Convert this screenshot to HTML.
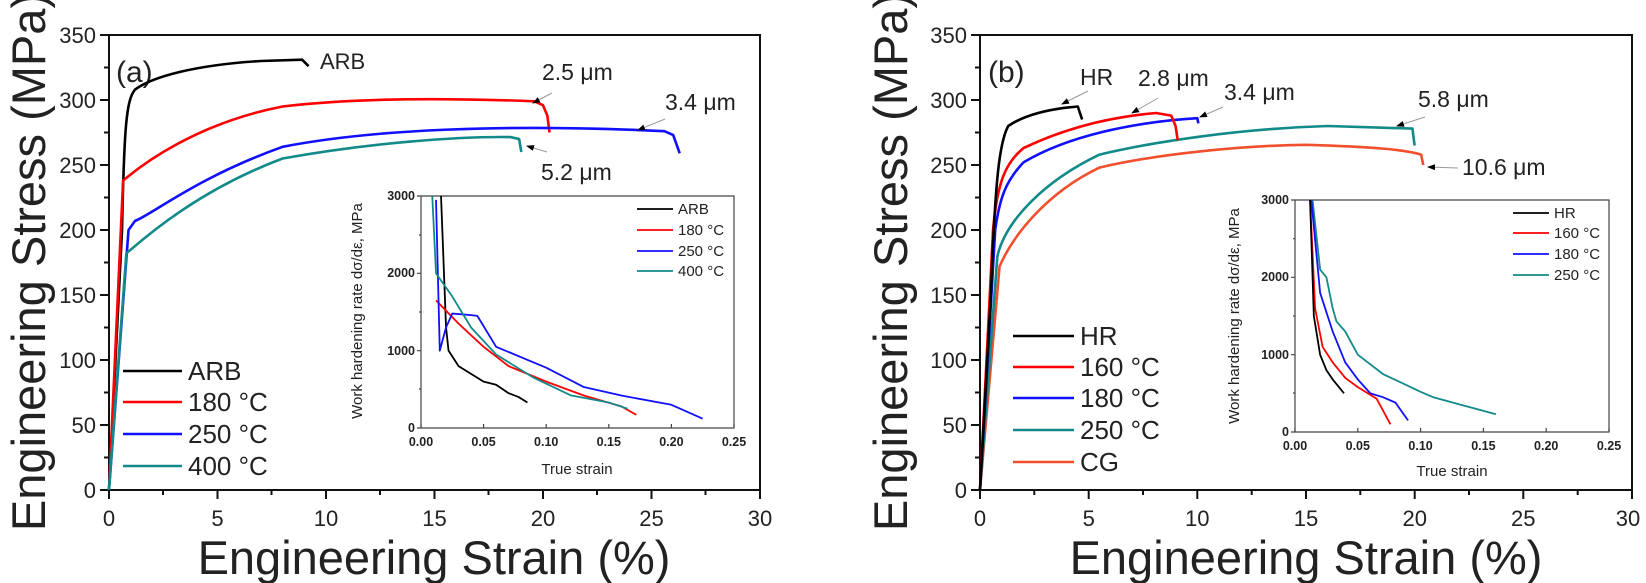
<!DOCTYPE html>
<html><head><meta charset="utf-8"><style>
html,body{margin:0;padding:0;background:#fff}
svg{display:block}
text{font-family:"Liberation Sans",Arial,sans-serif;fill:#222}
.p{fill:none;stroke-width:2.6;vector-effect:non-scaling-stroke;stroke-linejoin:round}
.q{fill:none;stroke-width:1.8;vector-effect:non-scaling-stroke;stroke-linejoin:round}
.tk{font-size:22px}
.it{font-size:12.5px;font-weight:bold;fill:#444}
.ax{stroke:#111;stroke-width:2;fill:none}
.ia{stroke:#444;stroke-width:1.2;fill:none}
</style></head><body>
<svg width="1646" height="583" viewBox="0 0 1646 583" xmlns="http://www.w3.org/2000/svg">
<defs><marker id="ah" markerWidth="8" markerHeight="6" refX="7" refY="3" orient="auto"><path d="M0,0 L8,3 L0,6 z" fill="#000"/></marker></defs>

<!-- ================= LEFT PANEL ================= -->
<g>
<path class="ax" d="M109,35 L760,35 L760,490 L109,490 Z"/>
<g stroke="#111" stroke-width="2">
<path d="M100,490h9M100,425h9M100,360h9M100,295h9M100,230h9M100,165h9M100,100h9M100,35h9"/>
<path d="M104,457.5h5M104,392.5h5M104,327.5h5M104,262.5h5M104,197.5h5M104,132.5h5M104,67.5h5"/>
<path d="M109,490v9M217.5,490v9M326,490v9M434.5,490v9M543,490v9M651.5,490v9M760,490v9"/>
<path d="M163,490v5M271.5,490v5M380,490v5M488.5,490v5M597,490v5M705.5,490v5"/>
</g>
<g class="tk" text-anchor="end">
<text x="96" y="498">0</text><text x="96" y="433">50</text><text x="96" y="368">100</text><text x="96" y="303">150</text><text x="96" y="238">200</text><text x="96" y="173">250</text><text x="96" y="108">300</text><text x="96" y="43">350</text>
</g>
<g class="tk" text-anchor="middle">
<text x="109" y="526">0</text><text x="217.5" y="526">5</text><text x="326" y="526">10</text><text x="434.5" y="526">15</text><text x="543" y="526">20</text><text x="651.5" y="526">25</text><text x="760" y="526">30</text>
</g>
<text x="434" y="574" text-anchor="middle" font-size="47">Engineering Strain (%)</text>
<text transform="translate(45,262) rotate(-90)" text-anchor="middle" font-size="47">Engineering Stress (MPa)</text>
<text x="116" y="82" font-size="30">(a)</text>

<g transform="translate(109,490) scale(21.7,-1.3)">
<path class="p" stroke="#000" d="M0,0 L0.6,200 C0.7,280 0.8,300 1.2,308 C2,318 4,327 7,330 L8.9,331 L9.2,326"/>
<path class="p" stroke="#f00" d="M0,0 L0.65,238 C1.5,250 4,282 8,295 C11,301 15,302 19.6,299 L20.0,296 L20.2,288 L20.3,275"/>
<path class="p" stroke="#1010ff" d="M0,0 L0.9,200 L1.2,207 C2,212 4,240 8,264 C12,277 18,282 25.6,276 L26,273 L26.3,259"/>
<path class="p" stroke="#138a8a" d="M0,0 L0.8,182 C1.5,192 4,230 8,255 C12,267 16,272 18.5,271.5 L18.9,270 L19,260"/>
</g>
<text x="320" y="69" font-size="22">ARB</text>
<text x="542" y="80" font-size="23">2.5 μm</text>
<text x="665" y="110" font-size="23">3.4 μm</text>
<text x="541" y="180" font-size="23">5.2 μm</text>
<g stroke="#999" stroke-width="1" fill="none">
<path d="M552,93 L533,103" marker-end="url(#ah)"/>
<path d="M665,119 L638,130" marker-end="url(#ah)"/>
<path d="M547,152 L527,146" marker-end="url(#ah)"/>
</g>

<g stroke-width="2.6">
<line x1="123" y1="371" x2="182" y2="371" stroke="#000"/>
<line x1="123" y1="402" x2="182" y2="402" stroke="#f00"/>
<line x1="123" y1="434" x2="182" y2="434" stroke="#1010ff"/>
<line x1="123" y1="466" x2="182" y2="466" stroke="#138a8a"/>
</g>
<g font-size="26">
<text x="188" y="380">ARB</text><text x="188" y="411">180 °C</text><text x="188" y="443">250 °C</text><text x="188" y="475">400 °C</text>
</g>

<!-- inset a -->
<path class="ia" d="M421,196 L734,196 L734,428 L421,428 Z"/>
<g stroke="#444" stroke-width="1.2">
<path d="M421,428h-4M421,350.7h-4M421,273.3h-4M421,196h-4M421,389h-2M421,312h-2M421,235h-2"/>
<path d="M421,428v-4M483.6,428v-4M546.2,428v-4M608.8,428v-4M671.4,428v-4M734,428v-4"/>
</g>
<g class="it" text-anchor="end"><text x="415" y="432">0</text><text x="415" y="355">1000</text><text x="415" y="277">2000</text><text x="415" y="200">3000</text></g>
<g class="it" text-anchor="middle"><text x="421" y="446">0.00</text><text x="483.6" y="446">0.05</text><text x="546.2" y="446">0.10</text><text x="608.8" y="446">0.15</text><text x="671.4" y="446">0.20</text><text x="734" y="446">0.25</text></g>
<text x="577" y="474" text-anchor="middle" font-size="15" fill="#333">True strain</text>
<text transform="translate(362,311) rotate(-90)" text-anchor="middle" font-size="15" fill="#333">Work hardening rate dσ/dε, MPa</text>
<g transform="translate(421,428) scale(1252,-0.07733)">
<path class="q" stroke="#000" d="M0.016,3000 L0.02,1300 L0.022,1000 L0.03,800 L0.04,700 L0.05,600 L0.06,560 L0.07,450 L0.078,400 L0.085,330"/>
<path class="q" stroke="#f00" d="M0.012,1650 L0.03,1350 L0.05,1050 L0.07,800 L0.1,600 L0.13,420 L0.16,280 L0.172,170"/>
<path class="q" stroke="#1010ff" d="M0.012,2950 L0.015,1000 L0.02,1300 L0.025,1480 L0.04,1460 L0.045,1450 L0.06,1050 L0.1,780 L0.13,530 L0.16,420 L0.2,300 L0.225,120"/>
<path class="q" stroke="#138a8a" d="M0.009,3000 L0.012,2000 L0.025,1700 L0.04,1300 L0.06,950 L0.09,650 L0.12,420 L0.15,330 L0.165,250"/>
</g>
<g stroke-width="1.8">
<line x1="637" y1="209" x2="673" y2="209" stroke="#000"/>
<line x1="637" y1="230" x2="673" y2="230" stroke="#f00"/>
<line x1="637" y1="251" x2="673" y2="251" stroke="#1010ff"/>
<line x1="637" y1="271" x2="673" y2="271" stroke="#138a8a"/>
</g>
<g font-size="15" fill="#333"><text x="678" y="214">ARB</text><text x="678" y="235">180 °C</text><text x="678" y="256">250 °C</text><text x="678" y="276">400 °C</text></g>
</g>

<!-- ================= RIGHT PANEL ================= -->
<g>
<path class="ax" d="M980,35 L1632,35 L1632,490 L980,490 Z"/>
<g stroke="#111" stroke-width="2">
<path d="M971,490h9M971,425h9M971,360h9M971,295h9M971,230h9M971,165h9M971,100h9M971,35h9"/>
<path d="M975,457.5h5M975,392.5h5M975,327.5h5M975,262.5h5M975,197.5h5M975,132.5h5M975,67.5h5"/>
<path d="M980,490v9M1088.7,490v9M1197.3,490v9M1306,490v9M1414.7,490v9M1523.3,490v9M1632,490v9"/>
<path d="M1034.3,490v5M1143,490v5M1251.7,490v5M1360.3,490v5M1469,490v5M1577.7,490v5"/>
</g>
<g class="tk" text-anchor="end">
<text x="967" y="498">0</text><text x="967" y="433">50</text><text x="967" y="368">100</text><text x="967" y="303">150</text><text x="967" y="238">200</text><text x="967" y="173">250</text><text x="967" y="108">300</text><text x="967" y="43">350</text>
</g>
<g class="tk" text-anchor="middle">
<text x="980" y="526">0</text><text x="1088.7" y="526">5</text><text x="1197.3" y="526">10</text><text x="1306" y="526">15</text><text x="1414.7" y="526">20</text><text x="1523.3" y="526">25</text><text x="1628" y="526">30</text>
</g>
<text x="1306" y="574" text-anchor="middle" font-size="47">Engineering Strain (%)</text>
<text transform="translate(907,262) rotate(-90)" text-anchor="middle" font-size="47">Engineering Stress (MPa)</text>
<text x="988" y="82" font-size="30">(b)</text>

<g transform="translate(980,490) scale(21.73,-1.3)">
<path class="p" stroke="#f0502e" d="M0,0 L0.9,172 C1.5,195 3,228 5.5,248 C8,258 12,265 15,265.5 C18,264 19.5,262 20.3,258 L20.4,250"/>
<path class="p" stroke="#138a8a" d="M0,0 L0.8,180 C1.2,208 3,238 5.5,258 C8,268 12,278 16,280 L19.9,278 L20,265"/>
<path class="p" stroke="#1010ff" d="M0,0 L0.7,200 C0.9,225 1.2,238 2,252 C4,272 7,283 10,286 L10.05,282"/>
<path class="p" stroke="#f00" d="M0,0 L0.6,200 C0.8,238 1.2,252 2,263 C4,279 6,287 8.1,290 L8.8,288 L9,280 L9.1,269"/>
<path class="p" stroke="#000" d="M0,0 L0.5,150 C0.7,240 0.9,268 1.3,280 C2,288 3,292 3.9,294 L4.5,295 L4.6,290 L4.7,285"/>
</g>
<text x="1080" y="85" font-size="23">HR</text>
<text x="1138" y="86" font-size="23">2.8 μm</text>
<text x="1224" y="100" font-size="23">3.4 μm</text>
<text x="1418" y="107" font-size="23">5.8 μm</text>
<text x="1462" y="175" font-size="23">10.6 μm</text>
<g stroke="#999" stroke-width="1" fill="none">
<path d="M1088,91 L1062,104" marker-end="url(#ah)"/>
<path d="M1158,98 L1132,113" marker-end="url(#ah)"/>
<path d="M1223,107 L1200,117" marker-end="url(#ah)"/>
<path d="M1425,117 L1397,126" marker-end="url(#ah)"/>
<path d="M1458,168 L1428,167" marker-end="url(#ah)"/>
</g>

<g stroke-width="2.6">
<line x1="1013" y1="336" x2="1074" y2="336" stroke="#000"/>
<line x1="1013" y1="367" x2="1074" y2="367" stroke="#f00"/>
<line x1="1013" y1="398" x2="1074" y2="398" stroke="#1010ff"/>
<line x1="1013" y1="430" x2="1074" y2="430" stroke="#138a8a"/>
<line x1="1013" y1="462" x2="1074" y2="462" stroke="#f0502e"/>
</g>
<g font-size="26">
<text x="1080" y="345">HR</text><text x="1080" y="376">160 °C</text><text x="1080" y="407">180 °C</text><text x="1080" y="439">250 °C</text><text x="1080" y="471">CG</text>
</g>

<!-- inset b -->
<path class="ia" d="M1295,200 L1609,200 L1609,432 L1295,432 Z"/>
<g stroke="#444" stroke-width="1.2">
<path d="M1295,432h-4M1295,354.7h-4M1295,277.3h-4M1295,200h-4M1295,393h-2M1295,316h-2M1295,238.7h-2"/>
<path d="M1295,432v-4M1357.8,432v-4M1420.6,432v-4M1483.4,432v-4M1546.2,432v-4M1609,432v-4"/>
</g>
<g class="it" text-anchor="end"><text x="1289" y="436">0</text><text x="1289" y="359">1000</text><text x="1289" y="281">2000</text><text x="1289" y="204">3000</text></g>
<g class="it" text-anchor="middle"><text x="1295" y="450">0.00</text><text x="1357.8" y="450">0.05</text><text x="1420.6" y="450">0.10</text><text x="1483.4" y="450">0.15</text><text x="1546.2" y="450">0.20</text><text x="1609" y="450">0.25</text></g>
<text x="1452" y="476" text-anchor="middle" font-size="15" fill="#333">True strain</text>
<text transform="translate(1239,316) rotate(-90)" text-anchor="middle" font-size="15" fill="#333">Work hardening rate dσ/dε, MPa</text>
<g transform="translate(1295,432) scale(1256,-0.07733)">
<path class="q" stroke="#138a8a" d="M0.014,3000 L0.018,2400 L0.02,2100 L0.025,2000 L0.03,1600 L0.033,1430 L0.04,1300 L0.05,1000 L0.07,750 L0.1,520 L0.11,450 L0.16,230"/>
<path class="q" stroke="#1010ff" d="M0.013,3000 L0.02,1800 L0.03,1300 L0.04,900 L0.05,680 L0.06,500 L0.07,450 L0.08,380 L0.09,150"/>
<path class="q" stroke="#f00" d="M0.012,3000 L0.016,1600 L0.022,1100 L0.03,900 L0.04,700 L0.05,580 L0.065,430 L0.076,100"/>
<path class="q" stroke="#000" d="M0.012,3000 L0.015,1500 L0.02,1000 L0.025,800 L0.03,680 L0.039,500"/>
</g>
<g stroke-width="1.8">
<line x1="1513" y1="213" x2="1549" y2="213" stroke="#000"/>
<line x1="1513" y1="233" x2="1549" y2="233" stroke="#f00"/>
<line x1="1513" y1="254" x2="1549" y2="254" stroke="#1010ff"/>
<line x1="1513" y1="275" x2="1549" y2="275" stroke="#138a8a"/>
</g>
<g font-size="15" fill="#333"><text x="1554" y="218">HR</text><text x="1554" y="238">160 °C</text><text x="1554" y="259">180 °C</text><text x="1554" y="280">250 °C</text></g>
</g>
</svg>
</body></html>
